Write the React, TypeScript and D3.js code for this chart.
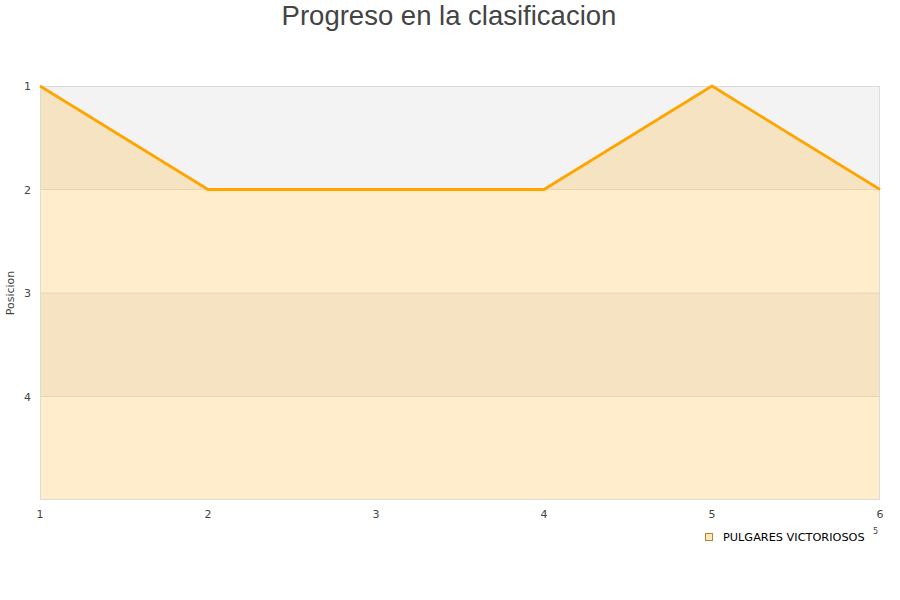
import React from "react";
import * as d3 from "d3";

const jornadas = [1, 2, 3, 4, 5, 6];
const posiciones = [1, 2, 2, 2, 1, 2];
const yTicks = [1, 2, 3, 4];
const seriesName = "PULGARES VICTORIOSOS";
const title = "Progreso en la clasificacion";
const yTitle = "Posicion";

export default function App() {
  const W = 900, H = 600;
  const left = 40, right = 880, top = 86, bottom = 500;
  const x = d3.scaleLinear().domain([1, 6]).range([left, right]);
  const y = d3.scaleLinear().domain([1, 5]).range([top, bottom]);
  const data = jornadas.map((j, i) => ({ j, p: posiciones[i] }));
  const line = d3.line<any>().x(d => x(d.j)).y(d => y(d.p));
  const area = d3.area<any>().x(d => x(d.j)).y0(y(5)).y1(d => y(d.p));
  const bands = [1, 2, 3, 4];
  return (
    <svg width={W} height={H} style={{ position: "absolute", left: 0, top: 0, fontFamily: "DejaVu Sans, sans-serif" }}>
      <rect x={0} y={0} width={W} height={H} fill="#fff" />
      <text x={449} y={25} textAnchor="middle" fontSize={27.5} fill="#444" fontFamily="Liberation Sans, Arial, sans-serif">{title}</text>
      {bands.map((b, i) => (
        <rect key={b} x={left} y={y(b)} width={right - left} height={y(b + 1) - y(b)} fill={i % 2 === 0 ? "#f3f3f3" : "#ffffff"} />
      ))}
      {yTicks.slice(1).map(t => (
        <line key={t} x1={left} x2={right} y1={y(t)} y2={y(t)} stroke="#e2e2e2" strokeWidth={1} />
      ))}
      <path d={area(data) || ""} fill="#FFA500" fillOpacity={0.2} />
      <rect x={left + 0.5} y={top + 0.5} width={right - left - 1} height={bottom - top - 1} fill="none" stroke="#dcdcdc" />
      <path d={line(data) || ""} fill="none" stroke="#FFA500" strokeWidth={2.8} strokeLinejoin="round" />
      {yTicks.map(t => (
        <text key={t} x={31} y={y(t) + 4} textAnchor="end" fontSize={11} fill="#444">{t}</text>
      ))}
      {jornadas.map(j => (
        <text key={j} x={x(j)} y={518} textAnchor="middle" fontSize={11} fill="#444">{j}</text>
      ))}
      <text transform={`translate(14,293) rotate(-90)`} textAnchor="middle" fontSize={11} fill="#444">{yTitle}</text>
      <rect x={705.5} y={533.5} width={7} height={7} fill="#fde7bf" stroke="#b8862b" strokeWidth={1} />
      <text x={723} y={541} fontSize={11.3} fill="#000">{seriesName}</text>
      <text x={873} y={534} fontSize={8} fill="#444">5</text>
    </svg>
  );
}
